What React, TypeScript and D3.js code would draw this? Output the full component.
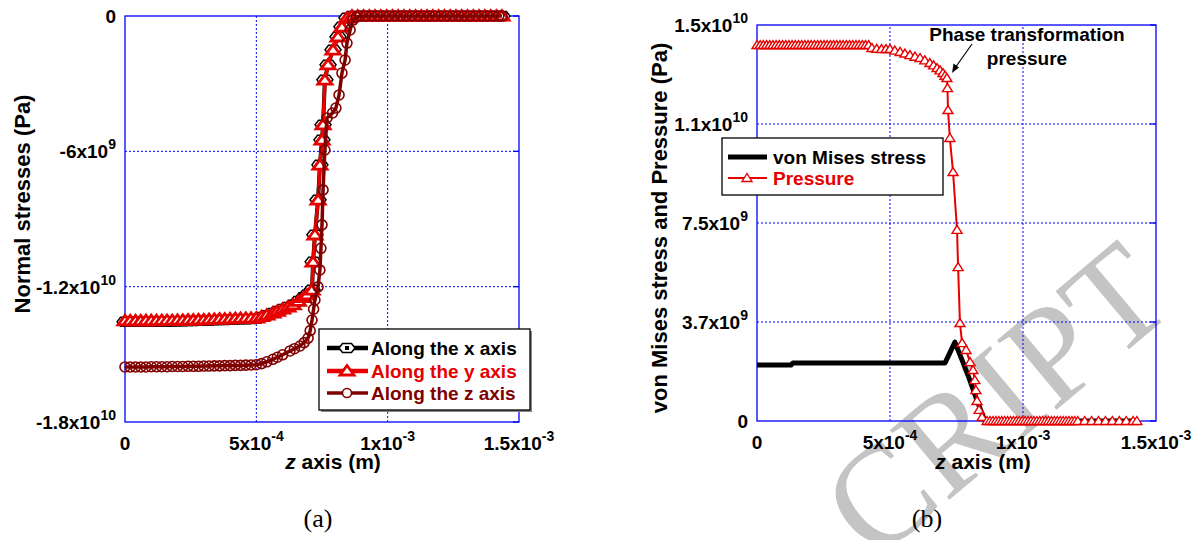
import React from 'react';
import * as d3 from 'd3';

// ---------- tick definitions ----------
const xTicks = [0, 5e-4, 1e-3, 1.5e-3];
const xTickBase = ['0', '5x10', '1x10', '1.5x10'];
const xTickExp = ['', '-4', '-3', '-3'];

const leftYTicks = [0, -6e9, -1.2e10, -1.8e10];
const leftYTickBase = ['0', '-6x10', '-1.2x10', '-1.8x10'];
const leftYTickExp = ['', '9', '10', '10'];

const rightYTicks = [0, 3.75e9, 7.5e9, 1.125e10, 1.5e10];
const rightYTickBase = ['0', '3.7x10', '7.5x10', '1.1x10', '1.5x10'];
const rightYTickExp = ['', '9', '9', '10', '10'];

// ---------- data: [z (µm), stress (GPa)] ----------
const alongY: [number, number][] = [
  [0, -13.52], [20, -13.52], [40, -13.52], [60, -13.52], [80, -13.51], [100, -13.51], [120, -13.51], [140, -13.5],
  [160, -13.5], [180, -13.5], [200, -13.49], [220, -13.49], [240, -13.48], [260, -13.48], [280, -13.47], [300, -13.47],
  [320, -13.46], [340, -13.45], [360, -13.44], [380, -13.44], [400, -13.43], [420, -13.42], [440, -13.41], [460, -13.4],
  [480, -13.4], [500, -13.39],
  [520, -13.33], [540, -13.26], [563, -13.17], [580, -13.09], [600, -13.0], [620, -12.91], [640, -12.81], [660, -12.65],
  [680, -12.48], [693, -12.37], [712, -12.15], [716, -10.91], [723, -9.71], [735, -8.16], [742, -6.61], [750, -5.5],
  [754, -4.83], [761, -2.84], [773, -2.17], [792, -1.51], [811, -0.93], [826, -0.49], [845, -0.09], [864, 0],
  [886, 0], [908, 0], [930, 0], [952, 0], [974, 0], [996, 0], [1018, 0], [1040, 0], [1062, 0], [1084, 0], [1106, 0],
  [1128, 0], [1150, 0], [1172, 0], [1194, 0], [1216, 0], [1238, 0], [1260, 0], [1282, 0], [1304, 0], [1326, 0],
  [1348, 0], [1370, 0], [1392, 0], [1414, 0], [1435, 0],
];

const alongX: [number, number][] = [
  [0, -13.56], [20, -13.56], [40, -13.56], [60, -13.56], [80, -13.55], [100, -13.55], [120, -13.55], [140, -13.54],
  [160, -13.54], [180, -13.54], [200, -13.53], [220, -13.53], [240, -13.52], [260, -13.52], [280, -13.51], [300, -13.51],
  [320, -13.5], [340, -13.49], [360, -13.48], [380, -13.48], [400, -13.47], [420, -13.46], [440, -13.45], [460, -13.44],
  [480, -13.43], [500, -13.42],
  [520, -13.35], [540, -13.27], [563, -13.17], [580, -13.08], [600, -12.99], [620, -12.9], [640, -12.8], [660, -12.64],
  [680, -12.47], [693, -12.36], [712, -12.14], [716, -10.9], [723, -9.7], [735, -8.15], [742, -6.6], [750, -5.49],
  [754, -4.82], [761, -2.83], [773, -2.16], [792, -1.5], [811, -0.92], [826, -0.48], [845, -0.08], [864, 0],
  [886, 0], [908, 0], [930, 0], [952, 0], [974, 0], [996, 0], [1018, 0], [1040, 0], [1062, 0], [1084, 0], [1106, 0],
  [1128, 0], [1150, 0], [1172, 0], [1194, 0], [1216, 0], [1238, 0], [1260, 0], [1282, 0], [1304, 0], [1326, 0],
  [1348, 0], [1370, 0], [1392, 0], [1414, 0], [1435, 0],
];

const alongZ: [number, number][] = [
  [0, -15.56], [20, -15.56], [40, -15.56], [60, -15.56], [80, -15.56], [100, -15.55], [120, -15.55], [140, -15.55],
  [160, -15.55], [180, -15.54], [200, -15.54], [220, -15.54], [240, -15.53], [260, -15.53], [280, -15.53], [300, -15.52],
  [320, -15.52], [340, -15.51], [360, -15.51], [380, -15.5], [400, -15.5], [420, -15.49], [440, -15.49], [460, -15.48],
  [480, -15.47], [500, -15.46],
  [520, -15.41], [540, -15.33], [563, -15.22], [580, -15.13], [600, -15.02], [628, -14.85], [645, -14.75], [666, -14.63],
  [682, -14.48], [697, -14.28], [705, -13.95], [712, -13.48], [718, -13.0], [723, -12.59], [735, -12.01], [742, -11.26],
  [746, -10.3], [750, -9.26], [754, -7.71], [761, -5.94], [769, -4.52], [790, -4.3], [803, -4.08], [815, -3.5],
  [826, -2.53], [838, -1.95], [845, -1.2], [857, -0.62], [868, -0.18], [880, -0.05], [895, 0],
  [917, 0], [939, 0], [961, 0], [983, 0], [1005, 0], [1027, 0], [1049, 0], [1071, 0], [1093, 0], [1115, 0], [1137, 0],
  [1159, 0], [1181, 0], [1203, 0], [1225, 0], [1247, 0], [1269, 0], [1291, 0], [1313, 0], [1335, 0], [1357, 0],
  [1379, 0], [1401, 0], [1423, 0], [1435, 0],
];

const vonMises: [number, number][] = [
  [0, 2.12], [128, 2.12], [135, 2.2], [707, 2.2], [744, 2.99], [774, 2.23], [800, 1.55], [820, 0.98], [838, 0.49],
  [857, 0], [1428, 0],
];

const pressure: [number, number][] = [
  [0, 14.24], [12, 14.24], [24, 14.24], [36, 14.24], [48, 14.24], [60, 14.24], [72, 14.24], [84, 14.24], [96, 14.24],
  [108, 14.24], [120, 14.24], [132, 14.24], [144, 14.24], [156, 14.24], [168, 14.24], [180, 14.24], [192, 14.24],
  [204, 14.24], [216, 14.24], [228, 14.24], [240, 14.24], [252, 14.24], [264, 14.24], [276, 14.24], [288, 14.24],
  [300, 14.24], [312, 14.24], [324, 14.24], [336, 14.24], [348, 14.24], [360, 14.24], [372, 14.24], [384, 14.24],
  [396, 14.24], [408, 14.24], [420, 14.24],
  [432, 14.13], [450, 14.1], [468, 14.09], [485, 14.09], [500, 14.09], [518, 14.03], [538, 13.98], [556, 13.92],
  [575, 13.86], [594, 13.8], [613, 13.75], [631, 13.66], [650, 13.56], [664, 13.47], [677, 13.37], [688, 13.28],
  [699, 13.18], [707, 13.08], [714, 12.99], [716, 12.61], [718, 11.78], [725, 10.72], [737, 9.43], [752, 7.24],
  [756, 5.83], [763, 3.71], [771, 2.95], [786, 2.69], [801, 2.23], [812, 1.93], [819, 1.55], [823, 1.17], [827, 0.76],
  [835, 0.42], [846, 0.15], [865, 0],
  [876, 0], [887, 0], [898, 0], [909, 0], [920, 0], [931, 0], [942, 0], [953, 0], [964, 0], [975, 0], [986, 0],
  [997, 0], [1008, 0], [1019, 0], [1030, 0], [1041, 0], [1052, 0], [1063, 0], [1074, 0], [1085, 0], [1096, 0],
  [1107, 0], [1118, 0], [1129, 0], [1140, 0], [1151, 0], [1162, 0], [1173, 0], [1184, 0], [1195, 0], [1206, 0],
  [1232, 0], [1258, 0], [1284, 0], [1310, 0], [1336, 0], [1362, 0], [1388, 0], [1414, 0], [1428, 0],
];

// ---------- styling ----------
const FONT = 'Arial, "Liberation Sans", Helvetica, sans-serif';
const SERIF = '"Times New Roman", "Liberation Serif", serif';
const BLUE = '#0000ff';
const RED = '#e60000';
const DARKRED = '#800000';

const TRI_L = 'M0,-5.5 L7,4 L-7,4 Z';
const TRI_R = 'M0,-4.5 L5,3.5 L-5,3.5 Z';
const HEX = 'M-8,0 L-4.5,-4.5 L4.5,-4.5 L8,0 L4.5,4.5 L-4.5,4.5 Z';

function SupText(props: { x: number; y: number; base: string; exp: string; anchor: string; size?: number; supSize?: number }) {
  const { x, y, base, exp, anchor } = props;
  const size = props.size ?? 19;
  const supSize = props.supSize ?? 14;
  return (
    <text x={x} y={y} textAnchor={anchor} fontFamily={FONT} fontWeight="bold" fontSize={size} fill="#000">
      {base}
      {exp ? (
        <tspan dy={-9} fontSize={supSize}>
          {exp}
        </tspan>
      ) : null}
    </text>
  );
}

function Frame(props: {
  x: d3.ScaleLinear<number, number>;
  y: d3.ScaleLinear<number, number>;
  yTicks: number[];
  yBase: string[];
  yExp: string[];
}) {
  const { x, y, yTicks, yBase, yExp } = props;
  const [x0, x1] = x.range();
  const [y0, y1] = y.range(); // y0 bottom, y1 top
  return (
    <g>
      {xTicks.map((t, i) =>
        i > 0 && i < xTicks.length - 1 ? (
          <line key={'gx' + i} x1={x(t)} x2={x(t)} y1={y0} y2={y1} stroke={BLUE} strokeWidth={1} strokeDasharray="2,2" />
        ) : null
      )}
      {yTicks.map((t, i) => {
        const py = y(t);
        if (Math.abs(py - y0) < 1 || Math.abs(py - y1) < 1) return null;
        return <line key={'gy' + i} x1={x0} x2={x1} y1={py} y2={py} stroke={BLUE} strokeWidth={1} strokeDasharray="2,2" />;
      })}
      <rect x={x0} y={y1} width={x1 - x0} height={y0 - y1} fill="none" stroke={BLUE} strokeWidth={1.3} />
      {yTicks.map((t, i) => (
        <line key={'ty' + i} x1={x1 - 6} x2={x1} y1={y(t)} y2={y(t)} stroke={BLUE} strokeWidth={1.3} />
      ))}
      {xTicks.map((t, i) => (
        <SupText key={'lx' + i} x={x(t)} y={y0 + 28} base={xTickBase[i]} exp={xTickExp[i]} anchor="middle" />
      ))}
      {yTicks.map((t, i) => (
        <SupText key={'ly' + i} x={x0 - 9} y={y(t) + 7} base={yBase[i]} exp={yExp[i]} anchor="end" />
      ))}
    </g>
  );
}

export default function App() {
  // left panel scales
  const xL = d3.scaleLinear().domain([0, 1.5e-3]).range([125, 519]);
  const yL = d3.scaleLinear().domain([-1.8e10, 0]).range([422, 16]);
  // right panel scales
  const xR = d3.scaleLinear().domain([0, 1.5e-3]).range([757, 1156]);
  const yR = d3.scaleLinear().domain([0, 1.5e10]).range([421, 25]);

  const lineL = d3
    .line<[number, number]>()
    .x((d) => xL(d[0] * 1e-6))
    .y((d) => yL(d[1] * 1e9));
  const lineR = d3
    .line<[number, number]>()
    .x((d) => xR(d[0] * 1e-6))
    .y((d) => yR(d[1] * 1e9));

  return (
    <svg width={1199} height={540} style={{ position: 'absolute', left: 0, top: 0, background: '#fff' }}>
      <rect x={0} y={0} width={1199} height={540} fill="#fff" />

      {/* ---------- left panel (a) ---------- */}
      <Frame x={xL} y={yL} yTicks={leftYTicks} yBase={leftYTickBase} yExp={leftYTickExp} />
      <text transform="translate(30,204) rotate(-90)" textAnchor="middle" fontFamily={FONT} fontWeight="bold" fontSize={22}>
        Normal stresses (Pa)
      </text>
      <text x={333} y={469} textAnchor="middle" fontFamily={FONT} fontWeight="bold" fontSize={21}>
        <tspan fontStyle="italic">z</tspan> axis (m)
      </text>
      <text x={318} y={527} textAnchor="middle" fontFamily={SERIF} fontSize={26}>
        (a)
      </text>

      {/* ---------- right panel (b) ---------- */}
      {/* watermark (behind) */}
      <text
        transform="translate(1178,308) rotate(-40)"
        textAnchor="end"
        fontFamily={SERIF}
        fontSize={140}
        fill="#c4c4c4"
      >
        CRIPT
      </text>
      <Frame x={xR} y={yR} yTicks={rightYTicks} yBase={rightYTickBase} yExp={rightYTickExp} />
      <text transform="translate(667,228) rotate(-90)" textAnchor="middle" fontFamily={FONT} fontWeight="bold" fontSize={22}>
        von Mises stress and Pressure (Pa)
      </text>
      <text x={983} y={469} textAnchor="middle" fontFamily={FONT} fontWeight="bold" fontSize={21}>
        <tspan fontStyle="italic">z</tspan> axis (m)
      </text>
      <text x={927} y={527} textAnchor="middle" fontFamily={SERIF} fontSize={26}>
        (b)
      </text>

      {/* ---------- left data ---------- */}
      <path d={lineL(alongX) ?? ''} fill="none" stroke="#000" strokeWidth={4} />
      {alongX.map((d, i) => (
        <g key={'mx' + i} transform={`translate(${xL(d[0] * 1e-6)},${yL(d[1] * 1e9)})`}>
          <path d={HEX} fill="#fff" stroke="#000" strokeWidth={1.5} />
          <rect x={-2} y={-2} width={4} height={4} fill="#000" />
        </g>
      ))}
      <path d={lineL(alongY) ?? ''} fill="none" stroke={RED} strokeWidth={3.5} />
      {alongY.map((d, i) => (
        <path
          key={'my' + i}
          d={TRI_L}
          transform={`translate(${xL(d[0] * 1e-6)},${yL(d[1] * 1e9)})`}
          fill="#fff"
          stroke={RED}
          strokeWidth={2.8}
        />
      ))}
      <path d={lineL(alongZ) ?? ''} fill="none" stroke={DARKRED} strokeWidth={3.5} />
      {alongZ.map((d, i) => (
        <circle key={'mz' + i} cx={xL(d[0] * 1e-6)} cy={yL(d[1] * 1e9)} r={5} fill="none" stroke={DARKRED} strokeWidth={1.6} />
      ))}

      {/* left legend */}
      <rect x={321} y={331} width={211} height={81} fill="#888" />
      <rect x={319} y={329} width={211} height={81} fill="#fff" stroke="#000" strokeWidth={1.3} />
      <line x1={327} x2={368} y1={348} y2={348} stroke="#000" strokeWidth={4.5} />
      <g transform="translate(347,348)">
        <path d={HEX} fill="#fff" stroke="#000" strokeWidth={1.5} />
        <rect x={-2} y={-2} width={4} height={4} fill="#000" />
      </g>
      <text x={371} y={355} fontFamily={FONT} fontWeight="bold" fontSize={19} fill="#000">
        Along the x axis
      </text>
      <line x1={327} x2={368} y1={371} y2={371} stroke={RED} strokeWidth={4.5} />
      <path d={TRI_L} transform="translate(347,371)" fill="#fff" stroke={RED} strokeWidth={2.8} />
      <text x={371} y={378} fontFamily={FONT} fontWeight="bold" fontSize={19} fill={RED}>
        Along the y axis
      </text>
      <line x1={327} x2={368} y1={393} y2={393} stroke={DARKRED} strokeWidth={3.5} />
      <circle cx={347} cy={393} r={4.5} fill="#fff" stroke={DARKRED} strokeWidth={1.6} />
      <text x={371} y={400} fontFamily={FONT} fontWeight="bold" fontSize={19} fill={DARKRED}>
        Along the z axis
      </text>

      {/* ---------- right data ---------- */}
      <path d={lineR(vonMises) ?? ''} fill="none" stroke="#000" strokeWidth={5} strokeLinejoin="round" />
      <path d={lineR(pressure) ?? ''} fill="none" stroke={RED} strokeWidth={2} />
      {pressure.map((d, i) => (
        <path
          key={'mp' + i}
          d={TRI_R}
          transform={`translate(${xR(d[0] * 1e-6)},${yR(d[1] * 1e9)})`}
          fill="#fff"
          stroke={RED}
          strokeWidth={1.4}
        />
      ))}

      {/* annotation */}
      <text x={1027} y={41} textAnchor="middle" fontFamily={FONT} fontWeight="bold" fontSize={19}>
        Phase transformation
      </text>
      <text x={1027} y={65} textAnchor="middle" fontFamily={FONT} fontWeight="bold" fontSize={19}>
        pressure
      </text>
      <line x1={972} y1={44} x2={955} y2={68} stroke="#000" strokeWidth={1.2} />
      <path d="M952,73 L953.5,63.5 L959,67.5 Z" fill="#000" />

      {/* right legend */}
      <rect x={722} y={138} width={221} height={57} fill="#fff" stroke="#000" strokeWidth={1.3} />
      <line x1={728} x2={767} y1={157} y2={157} stroke="#000" strokeWidth={5} />
      <text x={773} y={164} fontFamily={FONT} fontWeight="bold" fontSize={19} fill="#000">
        von Mises stress
      </text>
      <line x1={728} x2={767} y1={178} y2={178} stroke={RED} strokeWidth={2} />
      <path d={TRI_R} transform="translate(747,178)" fill="#fff" stroke={RED} strokeWidth={1.4} />
      <text x={773} y={185} fontFamily={FONT} fontWeight="bold" fontSize={19} fill={RED}>
        Pressure
      </text>
    </svg>
  );
}
